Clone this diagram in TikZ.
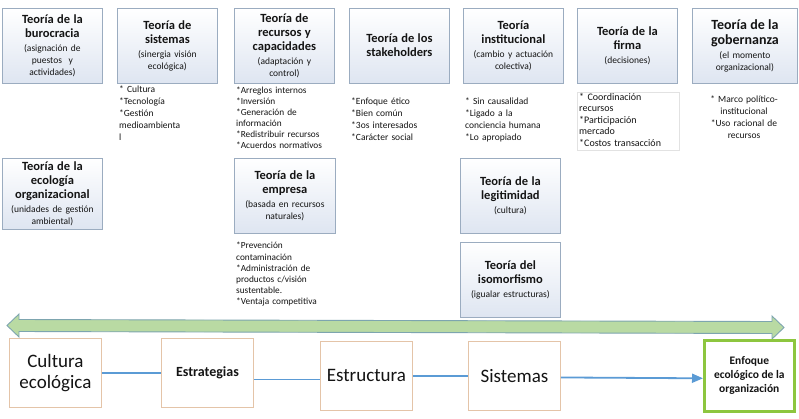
\documentclass[tikz,border=0pt]{standalone}
\usepackage{fontspec}
\setmainfont{Carlito}
\usetikzlibrary{arrows.meta}
\definecolor{tbord}{RGB}{155,172,192}
\definecolor{tshade}{RGB}{222,229,241}
\definecolor{bbord}{RGB}{228,196,168}
\definecolor{gbord}{RGB}{141,198,63}
\definecolor{arrfill}{RGB}{185,218,163}
\definecolor{arrbord}{RGB}{125,165,175}
\definecolor{connblue}{RGB}{91,155,213}
\definecolor{fbord}{RGB}{226,226,226}
\definecolor{txt}{RGB}{20,20,20}
\newcommand\mytitle[1]{{\fontsize{12.5}{14}\selectfont\bfseries #1\par}\vspace{1.5pt}}
\newcommand\mybigtitle[1]{{\fontsize{14}{15}\selectfont\bfseries #1\par}\vspace{1.5pt}}
\newcommand\mysub[1]{{\fontsize{9.5}{12}\selectfont #1\par}}
\tikzset{
  topbox/.style={draw=tbord, line width=0.8pt, top color=white, bottom color=tshade,
    anchor=north west, minimum width=100pt, minimum height=75pt, inner sep=1pt,
    text width=97pt, align=center, text=txt},
  bulletnote/.style={anchor=north west, inner sep=0pt, text width=104pt, align=left,
    font=\fontsize{9.5}{11.5}\selectfont, text=txt},
  botbox/.style={draw=bbord, line width=0.9pt, fill=white, anchor=north west,
    minimum width=92pt, minimum height=69pt, inner sep=1pt, align=center, text=txt},
  bigtext/.style={font=\fontsize{19}{21}\selectfont},
  connline/.style={draw=connblue, line width=1.8pt}
}
\begin{document}
\begin{tikzpicture}[x=1pt,y=-1pt]
\useasboundingbox (0,0) rectangle (799,418);
\fill[white] (0,0) rectangle (799,418);

% ---- top row of theory boxes
\node[topbox] (buro) at (2,8) {\mytitle{Teoría de la\\burocracia}\mysub{(asignación de\\puestos \ y\\actividades)}};
\node[topbox] (sist) at (117,8) {\mytitle{Teoría de\\sistemas}\mysub{(sinergia visión\\ecológica)}};
\node[topbox] (recu) at (234,8) {\mytitle{Teoría de\\recursos y\\capacidades}\mysub{(adaptación y\\control)}};
\node[topbox] (stak) at (349,8) {\mytitle{Teoría de los\\stakeholders}};
\node[topbox] (inst) at (463,8) {\mytitle{Teoría\\institucional}\mysub{(cambio y actuación\\colectiva)}};
\node[topbox] (firm) at (577,8) {\mytitle{Teoría de la\\firma}\mysub{(decisiones)}};
\node[topbox, minimum width=105pt, text width=102pt] (gobe) at (692,8) {\mybigtitle{Teoría de la\\gobernanza}\mysub{(el momento\\organizacional)}};

% ---- bullet notes
\node[bulletnote, font=\fontsize{9.5}{12}\selectfont] (nsist) at (119,86) {* Cultura\\{}*Tecnología\\{}*Gestión\\medioambienta\\l};
\node[bulletnote, font=\fontsize{9.3}{10.9}\selectfont] (nrecu) at (236,87) {*Arreglos internos\\{}*Inversión\\{}*Generación de\\información\\{}*Redistribuir recursos\\{}*Acuerdos normativos};
\node[bulletnote, font=\fontsize{9.5}{12}\selectfont] (nstak) at (351,98) {*Enfoque ético\\{}*Bien común\\{}*3os interesados\\{}*Carácter social};
\node[bulletnote, font=\fontsize{9.5}{12}\selectfont] (ninst) at (465,98) {* Sin causalidad\\{}*Ligado a la\\conciencia humana\\{}*Lo apropiado};
\draw[fbord, line width=0.6pt] (577,92) rectangle (679,150);
\node[bulletnote, font=\fontsize{10}{11.5}\selectfont] (nfirm) at (579,93) {* Coordinación\\recursos\\{}*Participación\\mercado\\{}*Costos transacción};
\node[bulletnote, anchor=north, align=center, font=\fontsize{9.5}{12}\selectfont] (ngobe) at (744,96) {* Marco político-\\institucional\\{}*Uso racional de\\recursos};

% ---- second row
\node[topbox, minimum height=71pt] (ecol) at (2,158) {\mytitle{Teoría de la\\ecología\\organizacional}\mysub{(unidades de gestión\\ambiental)}};
\node[topbox, minimum width=101pt] (empr) at (234,158) {\mytitle{Teoría de la\\empresa}\mysub{(basada en recursos\\naturales)}};
\node[bulletnote, font=\fontsize{9.3}{11.2}\selectfont] (nempr) at (236,242) {*Prevención\\contaminación\\{}*Administración de\\productos c/visión\\sustentable.\\{}*Ventaja competitiva};
\node[topbox] (legi) at (460,158) {\mytitle{Teoría de la\\legitimidad}\mysub{(cultura)}};
\node[topbox] (isom) at (460,242) {\mytitle{Teoría del\\isomorfismo}\mysub{(igualar estructuras)}};

% ---- big double arrow
\draw[fill=arrfill, draw=arrbord, line width=0.9pt, line join=miter]
  (7,325.5) -- (19,314) -- (19,319.5) -- (772,321.5) -- (772,316) -- (784,327.5)
  -- (772,339) -- (772,333.5) -- (19,331.5) -- (19,337) -- cycle;

% ---- bottom row
\node[botbox, bigtext] (cult) at (9,338) {Cultura\\ecológica};
\node[botbox, font=\fontsize{14}{16}\selectfont\bfseries] (estr) at (161,338) {Estrategias};
\node[botbox, bigtext] (estu) at (320,341) {Estructura};
\node[botbox, bigtext] (sism) at (468,341) {Sistemas};
\node[botbox, draw=gbord, line width=2.6pt, minimum width=90pt, minimum height=71pt,
  font=\fontsize{11.5}{14}\selectfont\bfseries] (enfo) at (703,339) {Enfoque\\ecológico de la\\organización};

% ---- connectors
\coordinate (c1) at ([yshift=-6.5pt]estr.east);
\draw[connline] (cult.east) -- (estr.west);
\draw[connline] (c1) -- (c1 -| estu.west);
\draw[connline] (estu.east) -- (sism.west);
\draw[connline, -{Triangle[length=11pt,width=9pt]}] ([yshift=-1.5pt]sism.east) -- ([yshift=-2.5pt]enfo.west);
\end{tikzpicture}
\end{document}
